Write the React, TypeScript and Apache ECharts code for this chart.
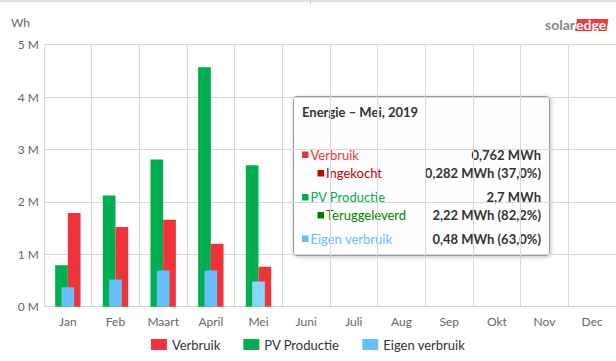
import React, { useEffect, useRef } from "react";
import * as echarts from "echarts";

const months = ["Jan", "Feb", "Maart", "April", "Mei", "Juni", "Juli", "Aug", "Sep", "Okt", "Nov", "Dec"];
const verbruik = [1790000, 1520000, 1660000, 1200000, 762000, null, null, null, null, null, null, null];
const pvProductie = [790000, 2120000, 2810000, 4570000, 2700000, null, null, null, null, null, null, null];
const eigenVerbruik = [370000, 520000, 690000, 690000, 480000, null, null, null, null, null, null, null];
const yTicks = [0, 1000000, 2000000, 3000000, 4000000, 5000000];

const RED = "#ef3338";
const GREEN = "#00ae50";
const BLUE = "#66bdff";
const BLUE_HOVER = "#86d6ff";
const FONT = "Lato";

const tooltipRows = [
  { label: "Verbruik", value: "0,762 MWh", color: RED, indent: false, y: 154.5 },
  { label: "Ingekocht", value: "0,282 MWh (37,0%)", color: "#c00000", indent: true, y: 173 },
  { label: "PV Productie", value: "2,7 MWh", color: GREEN, indent: false, y: 197 },
  { label: "Teruggeleverd", value: "2,22 MWh (82,2%)", color: "#008000", indent: true, y: 215 },
  { label: "Eigen verbruik", value: "0,48 MWh (63,0%)", color: BLUE, indent: false, y: 238.5 },
];

export default function App() {
  const ref = useRef<HTMLDivElement>(null);
  useEffect(() => {
    if (!ref.current) return;
    const chart = echarts.init(ref.current, undefined, { renderer: "svg" });
    const tipChildren: any[] = [
      {
        type: "rect",
        shape: { x: 293.5, y: 96.5, width: 256, height: 159, r: 3 },
        style: {
          fill: "rgba(255,255,255,0.97)",
          stroke: "#9a9a9a",
          lineWidth: 1,
          shadowBlur: 4,
          shadowOffsetX: 1,
          shadowOffsetY: 1,
          shadowColor: "rgba(0,0,0,0.25)",
        },
      },
      {
        type: "text",
        x: 302,
        y: 112,
        style: { text: "Energie – Mei, 2019", fill: "#333", fontSize: 13, fontWeight: "bold", fontFamily: FONT, verticalAlign: "middle" },
      },
    ];
    tooltipRows.forEach((r) => {
      const sx = r.indent ? 317.5 : 302;
      tipChildren.push({
        type: "rect",
        shape: { x: sx, y: r.y - 3, width: 6.5, height: 6.5 },
        style: { fill: r.color },
      });
      tipChildren.push({
        type: "text",
        x: sx + 8.5,
        y: r.y,
        style: { text: r.label, fill: r.color, fontSize: 13, fontFamily: FONT, verticalAlign: "middle" },
      });
      tipChildren.push({
        type: "text",
        x: 541,
        y: r.y,
        style: { text: r.value, fill: "#333", fontSize: 13, fontWeight: "bold", fontFamily: FONT, align: "right", verticalAlign: "middle" },
      });
    });

    chart.setOption({
      animation: false,
      textStyle: { fontFamily: FONT },
      grid: { left: 44, top: 44.7, width: 574, height: 262 },
      legend: {
        data: ["Verbruik", "PV Productie", "Eigen verbruik"],
        left: "center",
        top: 333,
        icon: "rect",
        itemWidth: 16,
        itemHeight: 11,
        itemGap: 23,
        textStyle: { fontSize: 13, color: "#333", fontFamily: FONT, padding: [0, 0, 0, 0] },
      },
      xAxis: [
        {
          type: "category",
          data: months,
          boundaryGap: true,
          axisLine: { lineStyle: { color: "#ccd6eb" } },
          axisTick: { length: 10, lineStyle: { color: "#ccd6eb" } },
          splitLine: { show: true, lineStyle: { color: "#d8d8d8" } },
          axisLabel: { color: "#666", fontSize: 12, margin: 9, fontFamily: FONT },
        },
        {
          type: "category",
          data: months,
          show: false,
        },
      ],
      yAxis: {
        type: "value",
        min: yTicks[0],
        max: yTicks[yTicks.length - 1],
        interval: 1000000,
        axisLine: { show: false },
        axisTick: { show: false },
        splitLine: { lineStyle: { color: "#d8d8d8" } },
        axisLabel: {
          color: "#666",
          fontSize: 12,
          margin: 5,
          fontFamily: FONT,
          formatter: (v: number) => `${v / 1000000} M`,
        },
      },
      series: [
        {
          name: "PV Productie",
          type: "bar",
          xAxisIndex: 0,
          data: pvProductie,
          barWidth: 12.7,
          barGap: "0%",
          itemStyle: { color: GREEN },
        },
        {
          name: "Verbruik",
          type: "bar",
          xAxisIndex: 0,
          data: verbruik,
          barWidth: 12.7,
          barGap: "0%",
          itemStyle: { color: RED },
        },
        {
          name: "Eigen verbruik",
          type: "bar",
          xAxisIndex: 1,
          data: eigenVerbruik.map((v, i) => (i === 4 ? { value: v, itemStyle: { color: BLUE_HOVER } } : v)),
          barWidth: 12.7,
          itemStyle: { color: BLUE },
          z: 3,
        },
      ],
      graphic: [
        { type: "line", shape: { x1: 0, y1: 1, x2: 616, y2: 1 }, style: { stroke: "#c8c8c8", lineWidth: 1 } },
        { type: "line", shape: { x1: 310.5, y1: 0, x2: 310.5, y2: 4 }, style: { stroke: "#c8c8c8", lineWidth: 1 } },
        {
          type: "text",
          x: 11,
          y: 22,
          style: { text: "Wh", fill: "#666", fontSize: 12, fontFamily: FONT, verticalAlign: "middle" },
        },
        {
          type: "polygon",
          shape: { points: [[577, 19], [608.5, 19], [606.5, 31], [575, 31]] },
          style: { fill: "#f03a3c" },
        },
        {
          type: "text",
          x: 545,
          y: 24.5,
          style: { text: "solar", fill: "#8a8a8a", fontSize: 14, fontWeight: "bold", fontFamily: FONT, verticalAlign: "middle" },
        },
        {
          type: "text",
          x: 576,
          y: 24.5,
          style: { text: "edge", fill: "#ffffff", fontSize: 14, fontWeight: "bold", fontFamily: FONT, verticalAlign: "middle" },
        },
        { type: "group", children: tipChildren, z: 100 },
      ],
    });
    return () => chart.dispose();
  }, []);
  return <div ref={ref} style={{ position: "absolute", left: 0, top: 0, width: 616, height: 361 }} />;
}
